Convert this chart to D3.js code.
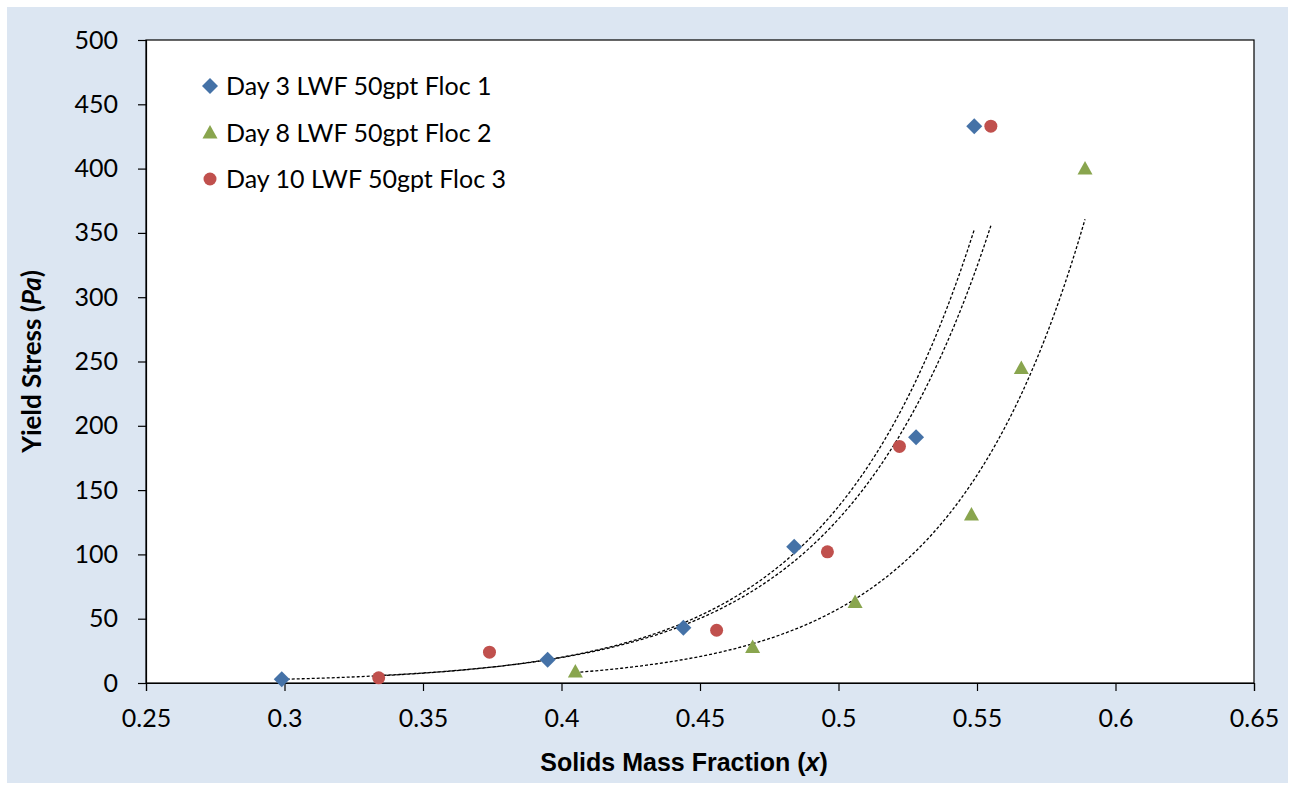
<!DOCTYPE html>
<html>
<head>
<meta charset="utf-8">
<script src="https://cdn.jsdelivr.net/npm/d3@7"></script>
<style>
  body { margin: 0; background: #ffffff; }
  svg { display: block; }
</style>
</head>
<body>
<div id="chart"></div>
<script>
// values
const day3X = [0.299, 0.395, 0.444, 0.484, 0.528, 0.549];
const day3Y = [3, 18, 43, 106, 191, 433];
const day8X = [0.405, 0.469, 0.506, 0.548, 0.566, 0.589];
const day8Y = [9, 28, 63, 131, 245, 400];
const day10X = [0.334, 0.374, 0.456, 0.496, 0.522, 0.555];
const day10Y = [4, 24, 41, 102, 184, 433];

const seriesNames = ["Day 3 LWF 50gpt Floc 1", "Day 8 LWF 50gpt Floc 2", "Day 10 LWF 50gpt Floc 3"];
const xTicks = [0.25, 0.3, 0.35, 0.4, 0.45, 0.5, 0.55, 0.6, 0.65];
const yTicks = [0, 50, 100, 150, 200, 250, 300, 350, 400, 450, 500];

const width = 1290, height = 785;
const margin = {left: 146, right: 36, top: 40, bottom: 102};

const svg = d3.select("#chart").append("svg")
    .attr("width", width)
    .attr("height", height);

// chart area background
svg.append("rect")
    .attr("x", 7).attr("y", 7)
    .attr("width", width - 9).attr("height", height - 9)
    .attr("fill", "#DCE6F2");

const x = d3.scaleLinear().domain([0.25, 0.65]).range([margin.left, width - margin.right]);
const y = d3.scaleLinear().domain([0, 500]).range([height - margin.bottom, margin.top]);

svg.append("rect")
    .attr("x", x(0.25)).attr("y", y(500))
    .attr("width", x(0.65) - x(0.25)).attr("height", y(0) - y(500))
    .attr("fill", "#ffffff")
    .attr("stroke", "#000000")
    .attr("stroke-width", 1.2);

const tickFont = "Lato, 'Open Sans', sans-serif";

const xAxis = svg.append("g")
    .attr("transform", `translate(0,${y(0)})`)
    .call(d3.axisBottom(x).tickValues(xTicks).tickSize(8).tickPadding(18).tickFormat(d3.format("")));
const yAxis = svg.append("g")
    .attr("transform", `translate(${x(0.25)},0)`)
    .call(d3.axisLeft(y).tickValues(yTicks).tickSize(8).tickPadding(20));

[xAxis, yAxis].forEach(function(g) {
    g.select(".domain").attr("stroke", "#000000").attr("stroke-width", 1.2);
    g.selectAll(".tick line").attr("stroke", "#000000").attr("stroke-width", 1.2);
    g.selectAll("text")
        .attr("font-family", tickFont)
        .attr("font-size", 25)
        .attr("fill", "#000000");
});

// exponential trendlines (least squares on ln y, like the spreadsheet does)
function expFit(xs, ys) {
    const n = xs.length;
    const ly = ys.map(v => Math.log(v));
    const mx = d3.mean(xs), my = d3.mean(ly);
    let sxy = 0, sxx = 0;
    for (let i = 0; i < n; i++) {
        sxy += (xs[i] - mx) * (ly[i] - my);
        sxx += (xs[i] - mx) * (xs[i] - mx);
    }
    const b = sxy / sxx;
    const a = Math.exp(my - b * mx);
    return v => a * Math.exp(b * v);
}

const line = d3.line().x(d => x(d[0])).y(d => y(d[1]));

[[day3X, day3Y], [day8X, day8Y], [day10X, day10Y]].forEach(function(s) {
    const f = expFit(s[0], s[1]);
    const lo = d3.min(s[0]), hi = d3.max(s[0]);
    const pts = d3.range(0, 101).map(i => {
        const v = lo + (hi - lo) * i / 100;
        return [v, f(v)];
    });
    svg.append("path")
        .attr("d", line(pts))
        .attr("fill", "none")
        .attr("stroke", "#000000")
        .attr("stroke-width", 1.3)
        .attr("stroke-dasharray", "3,2");
});

// markers
const blue = "#4572A7", green = "#89A54E", red = "#C0504D";

function diamond(g, cx, cy, s) {
    g.append("path")
        .attr("d", `M${cx},${cy - s}L${cx + s},${cy}L${cx},${cy + s}L${cx - s},${cy}Z`)
        .attr("fill", blue);
}
function triangle(g, cx, cy, s) {
    g.append("path")
        .attr("d", `M${cx},${cy - s}L${cx + s},${cy + s * 0.8}L${cx - s},${cy + s * 0.8}Z`)
        .attr("fill", green);
}
function dot(g, cx, cy, s) {
    g.append("circle").attr("cx", cx).attr("cy", cy).attr("r", s).attr("fill", red);
}

const marks = svg.append("g");
day3X.forEach((v, i) => diamond(marks, x(v), y(day3Y[i]), 8));
day8X.forEach((v, i) => triangle(marks, x(v), y(day8Y[i]), 7.5));
day10X.forEach((v, i) => dot(marks, x(v), y(day10Y[i]), 6.5));

// legend
const legend = svg.append("g");
const drawers = [
    (g, cx, cy) => diamond(g, cx, cy, 8),
    (g, cx, cy) => triangle(g, cx, cy, 7.5),
    (g, cx, cy) => dot(g, cx, cy, 6.5)
];
seriesNames.forEach(function(name, i) {
    const cy = 86 + i * 46.5;
    drawers[i](legend, 210, cy);
    legend.append("text")
        .attr("x", 226)
        .attr("y", cy + 9)
        .attr("font-family", tickFont)
        .attr("font-size", 25)
        .attr("fill", "#000000")
        .text(name);
});

// axis titles
svg.append("text")
    .attr("x", 684)
    .attr("y", 771)
    .attr("text-anchor", "middle")
    .attr("font-family", "'Liberation Sans', Arial, sans-serif")
    .attr("font-weight", "bold")
    .attr("font-size", 25)
    .html("Solids Mass Fraction (<tspan font-style='italic'>x</tspan>)");

svg.append("text")
    .attr("transform", `translate(41,${(y(0) + y(500)) / 2}) rotate(-90)`)
    .attr("text-anchor", "middle")
    .attr("font-family", "Lato, 'Open Sans', sans-serif")
    .attr("font-weight", "bold")
    .attr("font-size", 26)
    .html("Yield Stress (<tspan font-style='italic'>Pa</tspan>)");
</script>
</body>
</html>
